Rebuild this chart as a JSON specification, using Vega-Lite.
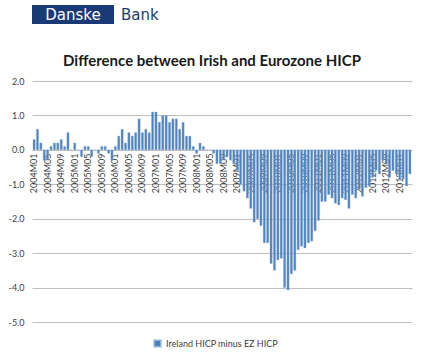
{
  "$schema": "https://vega.github.io/schema/vega-lite/v6.json",
  "background": "white",
  "padding": {"left": 0, "top": 5, "right": 4, "bottom": 4},
  "config": {"view": {"stroke": null}, "font": "Lato"},
  "spacing": 30,
  "vconcat": [
    {
      "spacing": 0,
      "hconcat": [
        {
          "width": 82, "height": 19,
          "view": {"fill": "#1a3a75", "stroke": null},
          "data": {"values": [{"t": "Danske"}]},
          "mark": {"type": "text", "color": "white", "font": "DejaVu Sans", "fontSize": 15},
          "encoding": {"text": {"field": "t"}}
        },
        {
          "width": 14, "height": 19,
          "data": {"values": [{"t": "Bank"}]},
          "mark": {"type": "text", "color": "#1a3a75", "font": "DejaVu Sans", "fontSize": 15, "align": "left"},
          "encoding": {"text": {"field": "t"}}
        }
      ]
    },
    {
      "width": 380,
      "height": 241,
      "title": {"text": "Difference between Irish and Eurozone HICP", "font": "Lato", "fontSize": 15, "fontWeight": "bold", "color": "#1a1a1a", "offset": 8, "anchor": "middle", "dx": -10},
      "data": {"values": [
        {"month": "2004M01", "value": 0.3}, {"month": "2004M02", "value": 0.6}, {"month": "2004M03", "value": 0.2}, {"month": "2004M04", "value": -0.3},
        {"month": "2004M05", "value": -0.3}, {"month": "2004M06", "value": 0.1}, {"month": "2004M07", "value": 0.2}, {"month": "2004M08", "value": 0.2},
        {"month": "2004M09", "value": 0.3}, {"month": "2004M10", "value": 0.1}, {"month": "2004M11", "value": 0.5}, {"month": "2004M12", "value": 0.0},
        {"month": "2005M01", "value": 0.2}, {"month": "2005M02", "value": 0.0}, {"month": "2005M03", "value": -0.2}, {"month": "2005M04", "value": 0.1},
        {"month": "2005M05", "value": 0.1}, {"month": "2005M06", "value": -0.2}, {"month": "2005M07", "value": 0.0}, {"month": "2005M08", "value": -0.1},
        {"month": "2005M09", "value": 0.1}, {"month": "2005M10", "value": 0.1}, {"month": "2005M11", "value": -0.1}, {"month": "2005M12", "value": -0.3},
        {"month": "2006M01", "value": 0.1}, {"month": "2006M02", "value": 0.4}, {"month": "2006M03", "value": 0.6}, {"month": "2006M04", "value": 0.2},
        {"month": "2006M05", "value": 0.5}, {"month": "2006M06", "value": 0.4}, {"month": "2006M07", "value": 0.5}, {"month": "2006M08", "value": 0.9},
        {"month": "2006M09", "value": 0.5}, {"month": "2006M10", "value": 0.6}, {"month": "2006M11", "value": 0.5}, {"month": "2006M12", "value": 1.1},
        {"month": "2007M01", "value": 1.1}, {"month": "2007M02", "value": 0.8}, {"month": "2007M03", "value": 1.0}, {"month": "2007M04", "value": 1.0},
        {"month": "2007M05", "value": 0.8}, {"month": "2007M06", "value": 0.9}, {"month": "2007M07", "value": 0.9}, {"month": "2007M08", "value": 0.6},
        {"month": "2007M09", "value": 0.8}, {"month": "2007M10", "value": 0.4}, {"month": "2007M11", "value": 0.4}, {"month": "2007M12", "value": 0.1},
        {"month": "2008M01", "value": -0.1}, {"month": "2008M02", "value": 0.2}, {"month": "2008M03", "value": 0.1}, {"month": "2008M04", "value": 0.0},
        {"month": "2008M05", "value": 0.0}, {"month": "2008M06", "value": -0.1}, {"month": "2008M07", "value": -0.4}, {"month": "2008M08", "value": -0.4},
        {"month": "2008M09", "value": -0.3}, {"month": "2008M10", "value": -0.2}, {"month": "2008M11", "value": -0.3}, {"month": "2008M12", "value": -0.4},
        {"month": "2009M01", "value": -0.6}, {"month": "2009M02", "value": -1.0}, {"month": "2009M03", "value": -1.2}, {"month": "2009M04", "value": -1.4},
        {"month": "2009M05", "value": -1.7}, {"month": "2009M06", "value": -2.1}, {"month": "2009M07", "value": -2.0}, {"month": "2009M08", "value": -2.2},
        {"month": "2009M09", "value": -2.7}, {"month": "2009M10", "value": -2.7}, {"month": "2009M11", "value": -3.3}, {"month": "2009M12", "value": -3.5},
        {"month": "2010M01", "value": -3.2}, {"month": "2010M02", "value": -3.15}, {"month": "2010M03", "value": -4.0}, {"month": "2010M04", "value": -4.07},
        {"month": "2010M05", "value": -3.6}, {"month": "2010M06", "value": -3.5}, {"month": "2010M07", "value": -2.9}, {"month": "2010M08", "value": -2.8},
        {"month": "2010M09", "value": -2.85}, {"month": "2010M10", "value": -2.7}, {"month": "2010M11", "value": -2.65}, {"month": "2010M12", "value": -2.35},
        {"month": "2011M01", "value": -2.05}, {"month": "2011M02", "value": -1.5}, {"month": "2011M03", "value": -1.5}, {"month": "2011M04", "value": -1.3},
        {"month": "2011M05", "value": -1.4}, {"month": "2011M06", "value": -1.55}, {"month": "2011M07", "value": -1.6}, {"month": "2011M08", "value": -1.4},
        {"month": "2011M09", "value": -1.45}, {"month": "2011M10", "value": -1.7}, {"month": "2011M11", "value": -1.3}, {"month": "2011M12", "value": -1.4},
        {"month": "2012M01", "value": -1.15}, {"month": "2012M02", "value": -1.35}, {"month": "2012M03", "value": -1.1}, {"month": "2012M04", "value": -1.05},
        {"month": "2012M05", "value": -0.8}, {"month": "2012M06", "value": -0.6}, {"month": "2012M07", "value": -0.7}, {"month": "2012M08", "value": -0.3},
        {"month": "2012M09", "value": -0.4}, {"month": "2012M10", "value": -0.8}, {"month": "2012M11", "value": -0.6}, {"month": "2012M12", "value": -0.7},
        {"month": "2013M01", "value": -0.85}, {"month": "2013M02", "value": -0.85}, {"month": "2013M03", "value": -1.05}, {"month": "2013M04", "value": -0.7}
      ]},
      "mark": {"type": "bar", "color": "#5a8ac4", "stroke": "#8fb3dc", "strokeWidth": 0.4},
      "encoding": {
        "x": {
          "field": "month", "type": "ordinal", "sort": null,
          "scale": {"paddingInner": 0.35, "paddingOuter": 0.3},
          "axis": {
            "title": null, "labelAngle": -90, "offset": -172, "ticks": false, "domain": false,
            "labelFont": "Lato", "labelFontSize": 9, "labelColor": "#404040", "labelPadding": 3,
            "values": ["2004M01","2004M05","2004M09","2005M01","2005M05","2005M09","2006M01","2006M05","2006M09","2007M01","2007M05","2007M09","2008M01","2008M05","2008M09","2009M01","2009M05","2009M09","2010M01","2010M05","2010M09","2011M01","2011M05","2011M09","2012M01","2012M05","2012M09","2013M01"]
          }
        },
        "y": {
          "field": "value", "type": "quantitative",
          "scale": {"domain": [-5, 2], "nice": false},
          "axis": {
            "title": null, "values": [-5, -4, -3, -2, -1, 0, 1, 2],
            "labelExpr": "replace(format(datum.value, '.1f'), '\u2212', '-')",
            "grid": true, "gridColor": "#bfbfbf", "gridWidth": 1, "domain": false, "ticks": false,
            "labelFont": "Lato", "labelFontSize": 9, "labelColor": "#404040", "labelPadding": 8, "minExtent": 32
          }
        },
        "color": {
          "datum": "Ireland HICP minus EZ HICP",
          "scale": {"range": ["#4f81bd"]},
          "legend": {"title": null, "orient": "none", "legendX": 121, "legendY": 334, "direction": "horizontal", "symbolType": "square", "symbolSize": 45, "labelFont": "Lato", "labelFontSize": 9, "labelColor": "#404040"}
        }
      }
    }
  ]
}
